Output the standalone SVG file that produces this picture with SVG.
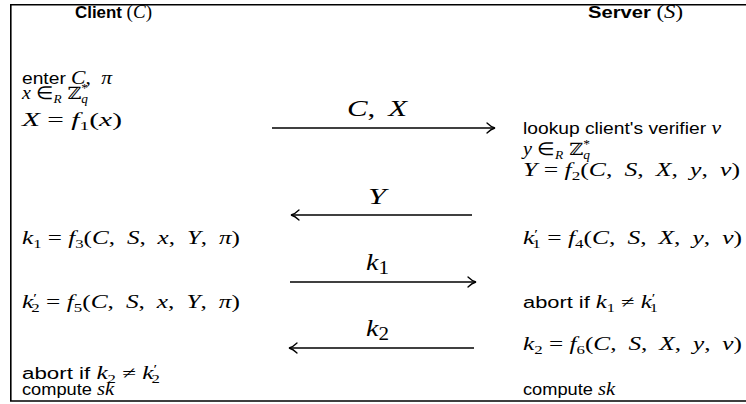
<svg xmlns="http://www.w3.org/2000/svg" width="746" height="404" viewBox="0 0 746 404">
<style>
text{fill:#000;font-size:17px}
.sf{font-family:"Liberation Sans",Arial,sans-serif;font-size:16px}
.b{font-weight:bold}
.rm{font-family:"Liberation Serif","Times New Roman",serif;font-size:18px}
.it{font-family:"Liberation Serif","Times New Roman",serif;font-style:italic;font-size:18px}
.bb{font-family:"DejaVu Serif",serif;font-size:17px}
.lab{font-size:24px}
.sub{font-size:12px}
.ln{stroke:#000;stroke-width:1.3;fill:none}
.hd{stroke:#000;stroke-width:1.3;fill:none;stroke-linecap:round}
</style>
<rect width="746" height="404" fill="#fff"/>
<path d="M746 4.7H10.8V401H746" fill="none" stroke="#000" stroke-width="1.6"/>

<g id="client">
<text x="75" y="18" textLength="77" lengthAdjust="spacingAndGlyphs"><tspan class="sf b">Client </tspan><tspan class="rm">(</tspan><tspan class="it">C</tspan><tspan class="rm">)</tspan></text>
<text x="22" y="84" textLength="90" lengthAdjust="spacingAndGlyphs"><tspan class="sf">enter </tspan><tspan class="it">C</tspan><tspan class="rm">, </tspan><tspan class="it" dx="4">π</tspan></text>
<text x="22" y="99" textLength="66" lengthAdjust="spacingAndGlyphs"><tspan class="it">x</tspan><tspan class="rm"> ∈</tspan><tspan class="it sub" dy="4">R</tspan><tspan class="bb" dy="-4"> ℤ</tspan><tspan class="rm sub" dy="-7">*</tspan><tspan class="it sub" dx="-6" dy="11">q</tspan></text>
<text x="22" y="126" textLength="100" lengthAdjust="spacingAndGlyphs"><tspan class="it">X</tspan><tspan class="rm"> = </tspan><tspan class="it">f</tspan><tspan class="rm sub" dy="4">1</tspan><tspan class="rm" dy="-4">(</tspan><tspan class="it">x</tspan><tspan class="rm">)</tspan></text>
<text x="22" y="244" textLength="218" lengthAdjust="spacingAndGlyphs"><tspan class="it">k</tspan><tspan class="rm sub" dy="4">1</tspan><tspan class="rm" dy="-4"> = </tspan><tspan class="it">f</tspan><tspan class="rm sub" dy="4">3</tspan><tspan class="rm" dy="-4">(</tspan><tspan class="it">C</tspan><tspan class="rm">, </tspan><tspan class="it" dx="4">S</tspan><tspan class="rm">, </tspan><tspan class="it" dx="4">x</tspan><tspan class="rm">, </tspan><tspan class="it" dx="4">Y</tspan><tspan class="rm">, </tspan><tspan class="it" dx="4">π</tspan><tspan class="rm">)</tspan></text>
<text x="22" y="308" textLength="218" lengthAdjust="spacingAndGlyphs"><tspan class="it">k</tspan><tspan class="rm sub" dy="-6">′</tspan><tspan class="rm sub" dx="-4" dy="10">2</tspan><tspan class="rm" dy="-4"> = </tspan><tspan class="it">f</tspan><tspan class="rm sub" dy="4">5</tspan><tspan class="rm" dy="-4">(</tspan><tspan class="it">C</tspan><tspan class="rm">, </tspan><tspan class="it" dx="4">S</tspan><tspan class="rm">, </tspan><tspan class="it" dx="4">x</tspan><tspan class="rm">, </tspan><tspan class="it" dx="4">Y</tspan><tspan class="rm">, </tspan><tspan class="it" dx="4">π</tspan><tspan class="rm">)</tspan></text>
<text x="22" y="379" textLength="138" lengthAdjust="spacingAndGlyphs"><tspan class="sf">abort if </tspan><tspan class="it">k</tspan><tspan class="rm sub" dy="4">2</tspan><tspan class="rm" dy="-4"> ≠ </tspan><tspan class="it">k</tspan><tspan class="rm sub" dy="-6">′</tspan><tspan class="rm sub" dx="-4" dy="10">2</tspan></text>
<text x="22" y="395" textLength="92" lengthAdjust="spacingAndGlyphs"><tspan class="sf">compute </tspan><tspan class="it">sk</tspan></text>
</g>

<g id="server">
<text x="588" y="18" textLength="95" lengthAdjust="spacingAndGlyphs"><tspan class="sf b">Server </tspan><tspan class="rm">(</tspan><tspan class="it">S</tspan><tspan class="rm">)</tspan></text>
<text x="523" y="134" textLength="198" lengthAdjust="spacingAndGlyphs"><tspan class="sf">lookup client's verifier </tspan><tspan class="it">v</tspan></text>
<text x="523" y="155" textLength="67" lengthAdjust="spacingAndGlyphs"><tspan class="it">y</tspan><tspan class="rm"> ∈</tspan><tspan class="it sub" dy="4">R</tspan><tspan class="bb" dy="-4"> ℤ</tspan><tspan class="rm sub" dy="-7">*</tspan><tspan class="it sub" dx="-6" dy="11">q</tspan></text>
<text x="523" y="176" textLength="217" lengthAdjust="spacingAndGlyphs"><tspan class="it">Y</tspan><tspan class="rm"> = </tspan><tspan class="it">f</tspan><tspan class="rm sub" dy="4">2</tspan><tspan class="rm" dy="-4">(</tspan><tspan class="it">C</tspan><tspan class="rm">, </tspan><tspan class="it" dx="4">S</tspan><tspan class="rm">, </tspan><tspan class="it" dx="4">X</tspan><tspan class="rm">, </tspan><tspan class="it" dx="4">y</tspan><tspan class="rm">, </tspan><tspan class="it" dx="4">v</tspan><tspan class="rm">)</tspan></text>
<text x="523" y="244" textLength="219" lengthAdjust="spacingAndGlyphs"><tspan class="it">k</tspan><tspan class="rm sub" dy="-6">′</tspan><tspan class="rm sub" dx="-4" dy="10">1</tspan><tspan class="rm" dy="-4"> = </tspan><tspan class="it">f</tspan><tspan class="rm sub" dy="4">4</tspan><tspan class="rm" dy="-4">(</tspan><tspan class="it">C</tspan><tspan class="rm">, </tspan><tspan class="it" dx="4">S</tspan><tspan class="rm">, </tspan><tspan class="it" dx="4">X</tspan><tspan class="rm">, </tspan><tspan class="it" dx="4">y</tspan><tspan class="rm">, </tspan><tspan class="it" dx="4">v</tspan><tspan class="rm">)</tspan></text>
<text x="523" y="308" textLength="135" lengthAdjust="spacingAndGlyphs"><tspan class="sf">abort if </tspan><tspan class="it">k</tspan><tspan class="rm sub" dy="4">1</tspan><tspan class="rm" dy="-4"> ≠ </tspan><tspan class="it">k</tspan><tspan class="rm sub" dy="-6">′</tspan><tspan class="rm sub" dx="-4" dy="10">1</tspan></text>
<text x="523" y="350" textLength="219" lengthAdjust="spacingAndGlyphs"><tspan class="it">k</tspan><tspan class="rm sub" dy="4">2</tspan><tspan class="rm" dy="-4"> = </tspan><tspan class="it">f</tspan><tspan class="rm sub" dy="4">6</tspan><tspan class="rm" dy="-4">(</tspan><tspan class="it">C</tspan><tspan class="rm">, </tspan><tspan class="it" dx="4">S</tspan><tspan class="rm">, </tspan><tspan class="it" dx="4">X</tspan><tspan class="rm">, </tspan><tspan class="it" dx="4">y</tspan><tspan class="rm">, </tspan><tspan class="it" dx="4">v</tspan><tspan class="rm">)</tspan></text>
<text x="523" y="395" textLength="92" lengthAdjust="spacingAndGlyphs"><tspan class="sf">compute </tspan><tspan class="it">sk</tspan></text>
</g>

<g id="connectors">
<path class="ln" d="M272 128H494"/>
<path class="hd" d="M487 123Q491 127 495 128Q491 129 487 133"/>
<text x="347" y="116" textLength="60" lengthAdjust="spacingAndGlyphs"><tspan class="it lab">C</tspan><tspan class="rm lab">, </tspan><tspan class="it lab" dx="4">X</tspan></text>

<path class="ln" d="M293 215H472"/>
<path class="hd" d="M299 210Q295 214 291 215Q295 216 299 220"/>
<text x="368" y="204" textLength="18" lengthAdjust="spacingAndGlyphs" class="it lab">Y</text>

<path class="ln" d="M290 282H475"/>
<path class="hd" d="M468 277Q472 281 476 282Q472 283 468 287"/>
<text x="366" y="270" textLength="23" lengthAdjust="spacingAndGlyphs"><tspan class="it lab">k</tspan><tspan class="rm" dy="4">1</tspan></text>

<path class="ln" d="M290 348H474"/>
<path class="hd" d="M297 343Q293 347 289 348Q293 349 297 353"/>
<text x="366" y="336" textLength="23" lengthAdjust="spacingAndGlyphs"><tspan class="it lab">k</tspan><tspan class="rm" dy="4">2</tspan></text>
</g>
</svg>
